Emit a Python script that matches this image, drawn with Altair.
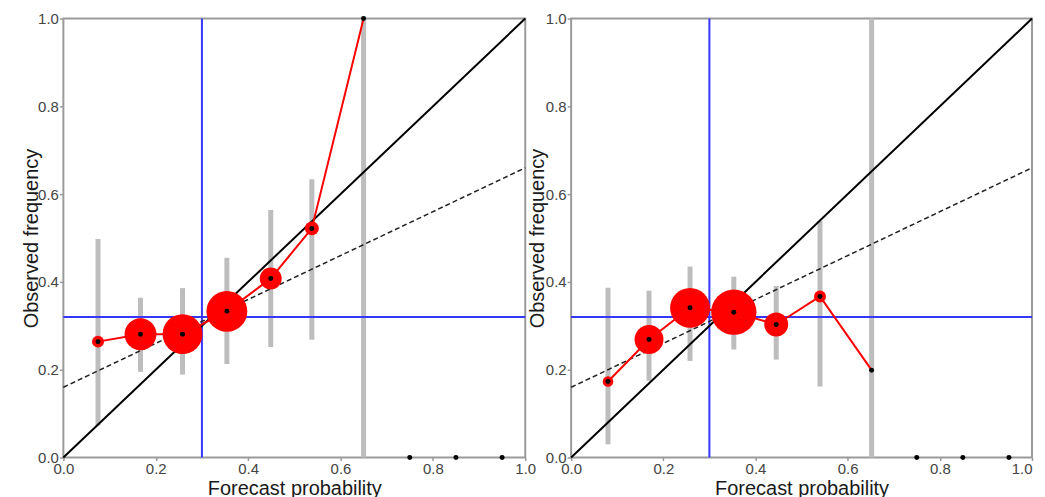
import altair as alt
import pandas as pd

# ---- data ----
# left panel
left_x = [0.075, 0.167, 0.258, 0.354, 0.449, 0.538, 0.650]
left_y = [0.264, 0.281, 0.281, 0.333, 0.408, 0.522, 1.000]
left_lo = [0.073, 0.195, 0.189, 0.213, 0.252, 0.268, 0.000]
left_hi = [0.498, 0.364, 0.386, 0.455, 0.564, 0.634, 1.000]
left_n = [36, 256, 400, 420, 121, 49, 0]

# right panel
right_x = [0.080, 0.169, 0.258, 0.353, 0.445, 0.540, 0.652]
right_y = [0.173, 0.269, 0.341, 0.331, 0.303, 0.367, 0.199]
right_lo = [0.030, 0.175, 0.220, 0.246, 0.223, 0.162, 0.000]
right_hi = [0.387, 0.380, 0.435, 0.412, 0.391, 0.539, 1.000]
right_n = [28, 210, 400, 515, 144, 36, 0]

# empty bins (no forecasts)
empty_x = [0.75, 0.85, 0.95]
empty_y = [0.0, 0.0, 0.0]

# reference lines
climatology = 0.32
mean_forecast = 0.30
diag_x = [0.0, 1.0]
diag_y = [0.0, 1.0]
noskill_x = [0.0, 1.0]
noskill_y = [0.16, 0.66]

ticks = [0.0, 0.2, 0.4, 0.6, 0.8, 1.0]
FONT = "Liberation Sans"


def X(field, title_y, flush_last):
    align = ({"condition": {"test": "datum.value >= 1", "value": "right"}, "value": "center"}
             if flush_last else "center")
    return alt.X(
        field, type="quantitative",
        scale=alt.Scale(domain=[0, 1], nice=False, zero=False),
        axis=alt.Axis(values=ticks, format=".1f", labelFlush=False, labelOverlap=False,
                      labelAlign=align,
                      grid=False, tickSize=3, labelPadding=1, domain=False,
                      title="Forecast probability", titleY=title_y,
                      titleBaseline="alphabetic"),
    )


def Y(field, title_x):
    return alt.Y(
        field, type="quantitative",
        scale=alt.Scale(domain=[0, 1], nice=False, zero=False),
        axis=alt.Axis(values=ticks, format=".1f", labelFlush=False, labelOverlap=False,
                      grid=False, tickSize=4, labelPadding=1, domain=False,
                      title="Observed frequency", titleX=title_x,
                      titleBaseline="alphabetic"),
    )


def panel(xs, ys, lo, hi, n, title_x, title_y, w, h, flush_last):
    df = pd.DataFrame({"x": xs, "y": ys, "lo": lo, "hi": hi, "n": n})
    dots = pd.DataFrame({"x": list(xs) + empty_x, "y": list(ys) + empty_y})
    diag = pd.DataFrame({"x": diag_x, "y": diag_y})
    nos = pd.DataFrame({"x": noskill_x, "y": noskill_y})
    vline = pd.DataFrame({"x": [mean_forecast]})
    hline = pd.DataFrame({"y": [climatology]})

    def xx(f):
        return X(f, title_y, flush_last)

    def yy(f):
        return Y(f, title_x)

    bars = alt.Chart(df).mark_rule(color="#bdbdbd", strokeWidth=5).encode(
        x=xx("x"), y=yy("lo"), y2="hi")
    vl = alt.Chart(vline).mark_rule(color="#3636ff", strokeWidth=2).encode(x=xx("x"))
    hl = alt.Chart(hline).mark_rule(color="#3636ff", strokeWidth=2).encode(y=yy("y"))
    d = alt.Chart(diag).mark_line(color="black", strokeWidth=2).encode(x=xx("x"), y=yy("y"))
    ns = alt.Chart(nos).mark_line(color="#222222", strokeWidth=1.5, strokeDash=[5, 3]).encode(
        x=xx("x"), y=yy("y"))
    rl = alt.Chart(df).mark_line(color="#ff0000", strokeWidth=2).encode(x=xx("x"), y=yy("y"))
    rc = alt.Chart(df).mark_circle(color="#ff0000", opacity=1).encode(
        x=xx("x"), y=yy("y"),
        size=alt.Size("n:Q", scale=alt.Scale(domain=[0, 600], range=[0, 2400]), legend=None))
    bd = alt.Chart(dots).mark_circle(color="black", opacity=1, size=25).encode(
        x=xx("x"), y=yy("y"))
    return alt.layer(bars, vl, hl, d, ns, rl, rc, bd).properties(width=w, height=h)


left = panel(left_x, left_y, left_lo, left_hi, left_n, -26, 37, 463, 440, False)
right = panel(right_x, right_y, right_lo, right_hi, right_n, -28, 37, 462, 440, True)

chart = alt.hconcat(left, right, spacing=46, bounds="flush").properties(
    padding={"left": 12.5, "top": 2, "right": 0, "bottom": 0},
    background="white",
).configure_view(
    stroke="#9a9a9a", strokeWidth=2
).configure_axis(
    labelFont=FONT, titleFont=FONT, labelFontSize=15, titleFontSize=20,
    labelColor="#444444", titleColor="#1a1a1a", titleFontWeight="normal",
    tickColor="#9a9a9a", tickWidth=1.5,
)

chart.save("out.html", embed_options={"renderer": "svg", "actions": False})
